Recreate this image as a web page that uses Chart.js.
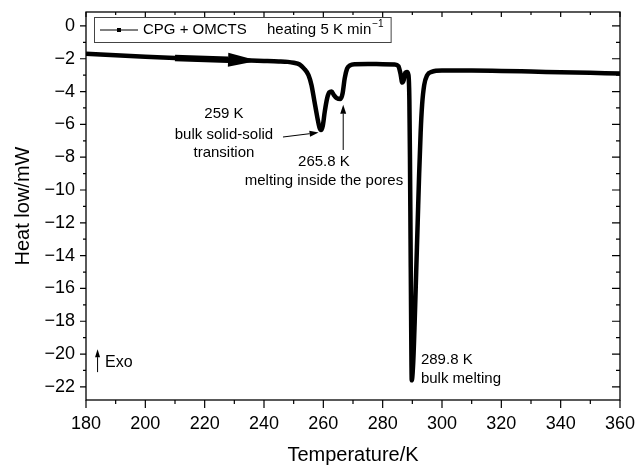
<!DOCTYPE html>
<html>
<head>
<meta charset="utf-8">
<script src="https://cdn.jsdelivr.net/npm/chart.js@4.4.1/dist/chart.umd.min.js"></script>
<style>
  html, body { margin: 0; padding: 0; background: #fff; }
</style>
</head>
<body>
<canvas id="dsc" width="640" height="467"></canvas>
<script>
// DSC trace
const temps = [180, 190, 200, 210, 220, 230, 240, 245, 248, 250, 252, 253.5, 255, 256, 257, 258, 258.7, 259.2, 259.8, 260.5, 261.3, 262, 262.8, 263.5, 264.5, 265.8, 266.5, 267.2, 268, 269, 270.5, 275, 280, 284, 285.3, 286, 286.6, 287.1, 287.6, 288.2, 288.7, 289.0, 289.2, 289.4, 289.6, 289.8, 290.3, 290.8, 291.3, 291.8, 292.3, 292.8, 293.3, 294, 295, 296.5, 300, 310, 320, 330, 340, 350, 360];
const heatFlow = [-1.70, -1.79, -1.88, -1.96, -2.03, -2.08, -2.13, -2.16, -2.19, -2.24, -2.35, -2.6, -3.0, -3.6, -4.6, -5.6, -6.2, -6.35, -6.1, -5.2, -4.4, -4.05, -4.0, -4.2, -4.4, -4.45, -4.1, -3.2, -2.6, -2.4, -2.33, -2.32, -2.33, -2.35, -2.45, -2.9, -3.45, -3.3, -2.85, -2.8, -3.0, -4.5, -8, -13, -18, -21.6, -20.5, -18, -15, -12, -9, -6.5, -4.8, -3.6, -3.0, -2.8, -2.72, -2.72, -2.74, -2.78, -2.82, -2.86, -2.9];
const xTicks = [180, 200, 220, 240, 260, 280, 300, 320, 340, 360];
const yTicks = [-22, -20, -18, -16, -14, -12, -10, -8, -6, -4, -2, 0];
const seriesLabel = 'CPG + OMCTS';
const legendNote = 'heating 5 K min';

const FONT = "'Liberation Sans', Arial, sans-serif";

function arrow(ctx, x1, y1, x2, y2, head, half) {
    const a = Math.atan2(y2 - y1, x2 - x1);
    const c = Math.cos(a), s = Math.sin(a);
    ctx.beginPath();
    ctx.moveTo(x1, y1);
    ctx.lineTo(x2 - head * c, y2 - head * s);
    ctx.stroke();
    ctx.beginPath();
    ctx.moveTo(x2, y2);
    ctx.lineTo(x2 - head * c + half * s, y2 - head * s - half * c);
    ctx.lineTo(x2 - head * c - half * s, y2 - head * s + half * c);
    ctx.closePath();
    ctx.fill();
}

const decor = {
    id: 'decor',
    afterDatasetsDraw(chart) {
        const {ctx, chartArea: a, scales: {x, y}} = chart;
        ctx.save();
        ctx.fillStyle = '#000';
        ctx.strokeStyle = '#000';

        // big direction arrow on the trace
        ctx.lineWidth = 6.5;
        arrow(ctx, x.getPixelForValue(210), y.getPixelForValue(-1.96),
              x.getPixelForValue(238), y.getPixelForValue(-2.12), 30, 7);

        // frame
        ctx.lineWidth = 1.3;
        ctx.strokeRect(a.left, a.top, a.right - a.left, a.bottom - a.top);

        // tick marks
        ctx.lineWidth = 1.2;
        ctx.beginPath();
        for (let t = 180; t <= 360; t += 10) {
            const px = x.getPixelForValue(t);
            const major = t % 20 === 0;
            ctx.moveTo(px, a.bottom); ctx.lineTo(px, a.bottom + (major ? 8 : 4));
            ctx.moveTo(px, a.top); ctx.lineTo(px, a.top + (major ? 5 : 3));
        }
        for (let v = -22; v <= 0; v += 1) {
            const py = y.getPixelForValue(v);
            const major = v % 2 === 0;
            ctx.moveTo(a.left, py); ctx.lineTo(a.left - (major ? 6 : 3), py);
            ctx.moveTo(a.right, py); ctx.lineTo(a.right - (major ? 8 : 4), py);
        }
        ctx.stroke();

        // annotations
        ctx.lineWidth = 1;
        arrow(ctx, x.getPixelForValue(246.4), y.getPixelForValue(-6.77),
              x.getPixelForValue(258.4), y.getPixelForValue(-6.5), 9, 3);
        arrow(ctx, x.getPixelForValue(266.7), y.getPixelForValue(-7.56),
              x.getPixelForValue(266.7), y.getPixelForValue(-4.8), 9, 3);
        arrow(ctx, x.getPixelForValue(183.9), y.getPixelForValue(-21.1),
              x.getPixelForValue(183.9), y.getPixelForValue(-19.7), 8, 2.5);

        ctx.font = '15px ' + FONT;
        ctx.textBaseline = 'middle';
        ctx.textAlign = 'center';
        const cx1 = x.getPixelForValue(226.5);
        ctx.fillText('259 K', cx1, y.getPixelForValue(-5.37));
        ctx.fillText('bulk solid-solid', cx1, y.getPixelForValue(-6.65));
        ctx.fillText('transition', cx1, y.getPixelForValue(-7.74));
        const cx2 = x.getPixelForValue(260.2);
        ctx.fillText('265.8 K', cx2, y.getPixelForValue(-8.27));
        ctx.fillText('melting inside the pores', cx2, y.getPixelForValue(-9.45));
        ctx.textAlign = 'left';
        ctx.fillText('289.8 K', x.getPixelForValue(292.9), y.getPixelForValue(-20.37));
        ctx.fillText('bulk melting', x.getPixelForValue(292.9), y.getPixelForValue(-21.5));
        ctx.font = '16px ' + FONT;
        ctx.fillText('Exo', x.getPixelForValue(186.4), y.getPixelForValue(-20.5));

        // legend box
        const lx = a.left + 8, ly = a.top + 5, lh = 25;
        ctx.font = '15px ' + FONT;
        const noteX = lx + 173;
        const noteW = ctx.measureText(legendNote).width;
        ctx.font = '10px ' + FONT;
        const supW = ctx.measureText('\u22121').width;
        const boxW = noteX + noteW + supW + 8 - lx;
        ctx.fillStyle = '#fff';
        ctx.fillRect(lx, ly, boxW, lh);
        ctx.strokeStyle = '#444';
        ctx.lineWidth = 1;
        ctx.strokeRect(lx + 0.5, ly + 0.5, boxW, lh);
        ctx.strokeStyle = '#000';
        ctx.fillStyle = '#000';
        const my = ly + lh / 2 + 0.5;
        ctx.beginPath();
        ctx.moveTo(lx + 6, my); ctx.lineTo(lx + 44, my);
        ctx.stroke();
        ctx.fillRect(lx + 23, my - 2, 4, 4);
        ctx.font = '15px ' + FONT;
        ctx.fillText(seriesLabel, lx + 49, my);
        ctx.fillText(legendNote, noteX, my);
        ctx.font = '10px ' + FONT;
        ctx.fillText('\u22121', noteX + noteW + 1, my - 6);
        ctx.restore();
    }
};

new Chart(document.getElementById('dsc'), {
    type: 'line',
    data: {
        datasets: [{
            label: seriesLabel,
            data: temps.map((t, i) => ({x: t, y: heatFlow[i]})),
            borderColor: '#000',
            borderWidth: 4.5,
            pointRadius: 0,
            cubicInterpolationMode: 'monotone',
            fill: false
        }]
    },
    options: {
        responsive: false,
        animation: false,
        devicePixelRatio: 1,
        layout: {padding: {left: 0, right: 20, top: 12, bottom: 0}},
        plugins: {legend: {display: false}, tooltip: {enabled: false}},
        scales: {
            x: {
                type: 'linear',
                min: 180,
                max: 360,
                afterBuildTicks: s => { s.ticks = xTicks.map(v => ({value: v})); },
                afterFit: s => { s.height = 67; s.paddingLeft = 0; s.paddingRight = 0; },
                grid: {display: false, drawTicks: false},
                border: {display: false},
                ticks: {color: '#000', padding: 13, font: {family: FONT, size: 18}},
                title: {display: true, text: 'Temperature/K', color: '#000',
                        font: {family: FONT, size: 20}, padding: {top: 4, bottom: 0}}
            },
            y: {
                type: 'linear',
                min: -22.8,
                max: 0.85,
                afterBuildTicks: s => { s.ticks = yTicks.map(v => ({value: v})); },
                afterFit: s => { s.width = 86; s.paddingTop = 0; s.paddingBottom = 0; },
                grid: {display: false, drawTicks: false},
                border: {display: false},
                ticks: {color: '#000', padding: 11, font: {family: FONT, size: 18},
                        callback: v => v < 0 ? '\u2212' + Math.abs(v) : String(v)},
                title: {display: true, text: 'Heat low/mW', color: '#000',
                        font: {family: FONT, size: 20}, padding: {top: 11, bottom: 0}}
            }
        }
    },
    plugins: [decor]
});
</script>
</body>
</html>
